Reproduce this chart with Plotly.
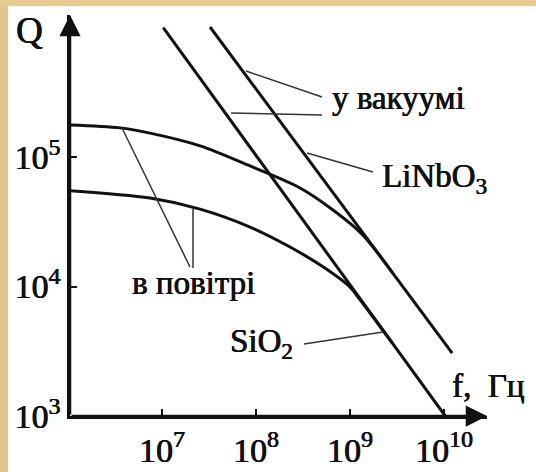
import plotly.graph_objects as go

# Frequency f (Hz) and quality factor Q, log-log scale
# LiNbO3 resonator in vacuum: Q*f = const
f_linbo3_vac = [3.24e7, 1.22e10]
q_linbo3_vac = [1.01e6, 3.06e3]

# SiO2 (quartz) resonator in vacuum
f_sio2_vac = [1.03e7, 1.03e10]
q_sio2_vac = [1.0e6, 1.0e3]

# LiNbO3 in air: saturates at low frequency, merges into the vacuum line
f_linbo3_air = [1.05e6, 3.57e6, 7.45e6, 2.54e7, 8.63e7, 2.94e8, 6.59e8, 1.34e9, 2.80e9]
q_linbo3_air = [1.77e5, 1.68e5, 1.53e5, 1.22e5, 8.53e4, 5.77e4, 3.90e4, 2.54e4, 1.29e4]

# SiO2 in air
f_sio2_air = [1.05e6, 7.45e6, 2.54e7, 8.63e7, 2.30e8, 5.16e8, 1.0e9, 1.28e9, 2.80e9]
q_sio2_air = [5.50e4, 4.82e4, 3.96e4, 2.88e4, 2.02e4, 1.42e4, 9.9e3, 7.9e3, 3.68e3]

x_tickvals = [1e7, 1e8, 1e9, 1e10]
x_ticktext = ["10<sup>7</sup>", "10<sup>8</sup>", "10<sup>9</sup>", "10<sup>10</sup>"]
y_tickvals = [1e3, 1e4, 1e5]
y_ticktext = ["10<sup>3</sup>", "10<sup>4</sup>", "10<sup>5</sup>"]

W, H = 536, 472
L, R, T, B = 70, 49, 15, 56
PW, PH = W - L - R, H - T - B
SERIF = "Liberation Serif, DejaVu Serif, serif"
INK = "#111111"
HEAVY = "0.4px 0 0 #111111, -0.3px 0 0 #111111"


def paper(px, py):
    """Convert pixel position in the page to paper coordinates."""
    return (px - L) / PW, (H - B - py) / PH


fig = go.Figure()

curve = dict(color=INK, width=3)
fig.add_trace(go.Scatter(x=f_sio2_vac, y=q_sio2_vac, mode="lines", line=curve))
fig.add_trace(go.Scatter(x=f_linbo3_vac, y=q_linbo3_vac, mode="lines", line=curve))
fig.add_trace(go.Scatter(x=f_linbo3_air, y=q_linbo3_air, mode="lines",
                         line=dict(curve, shape="spline", smoothing=0.9)))
fig.add_trace(go.Scatter(x=f_sio2_air, y=q_sio2_air, mode="lines",
                         line=dict(curve, shape="spline", smoothing=0.9)))

# thin leader lines from the labels to the curves
leaders = [
    ((246, 71), (322, 97)),
    ((231, 113), (322, 115)),
    ((307, 153), (373, 172)),
    ((122, 128), (190, 267)),
    ((193, 209), (193, 268)),
    ((383, 332), (304, 344)),
]
shapes = []
for (x0, y0), (x1, y1) in leaders:
    a0, b0 = paper(x0, y0)
    a1, b1 = paper(x1, y1)
    shapes.append(dict(type="line", xref="paper", yref="paper",
                       x0=a0, y0=b0, x1=a1, y1=b1,
                       line=dict(color="#333333", width=1.5)))

# parchment frame strips along the left and top edges
lx0, _ = paper(0, 0)
lx1, _ = paper(8, 0)
_, by0 = paper(0, H)
_, by1 = paper(0, 0)
_, ty0 = paper(0, 6)
rx1, _ = paper(W, 0)
shapes.append(dict(type="rect", xref="paper", yref="paper", x0=lx0, x1=lx1,
                   y0=by0, y1=by1, fillcolor="#e3c48c", line=dict(width=0),
                   layer="below"))
shapes.append(dict(type="rect", xref="paper", yref="paper", x0=lx0, x1=rx1,
                   y0=ty0, y1=by1, fillcolor="#e8ca92", line=dict(width=0),
                   layer="below"))

annotations = []


def label(text, px, py, anchor="left", size=33):
    x, y = paper(px, py)
    annotations.append(dict(text=text, x=x, y=y, xref="paper", yref="paper",
                            xanchor=anchor, yanchor="middle", showarrow=False,
                            font=dict(family=SERIF, size=size, color=INK,
                                      shadow=HEAVY)))


label("у вакуумі", 330, 98)
label("LiNbO<sub>3</sub>", 380, 178)
label("в повітрі", 193, 283, anchor="center")
label("SiO<sub>2</sub>", 228, 343)
label("f,&nbsp; Гц", 450, 386)
label("Q", 14, 31, size=37)

# arrowheads on both axes
for ex, ey in ((1, 0), (0, 1)):
    annotations.append(dict(x=ex, y=ey, xref="x domain", yref="y domain",
                            ax=0, ay=0, axref="x domain", ayref="y domain",
                            text="", showarrow=True, arrowhead=2, arrowsize=1.7,
                            arrowwidth=2.5, arrowcolor=INK))

axis_common = dict(showline=True, linewidth=2.5, linecolor=INK, showgrid=False,
                   zeroline=False, ticks="inside", ticklen=7, tickwidth=2,
                   tickcolor=INK, automargin=False,
                   tickfont=dict(family=SERIF, size=34, color=INK, shadow=HEAVY))

fig.update_layout(
    width=W, height=H,
    margin=dict(l=L, r=R, t=T, b=B, pad=0, autoexpand=False),
    paper_bgcolor="white", plot_bgcolor="white",
    showlegend=False, hovermode=False,
    shapes=shapes, annotations=annotations,
    xaxis=dict(axis_common, type="log", range=[6.021, 10.457],
               tickvals=x_tickvals, ticktext=x_ticktext, ticklabelstandoff=2),
    yaxis=dict(axis_common, type="log", range=[3.0, 6.097],
               tickvals=y_tickvals, ticktext=y_ticktext),
)

fig.write_html("out.html")
